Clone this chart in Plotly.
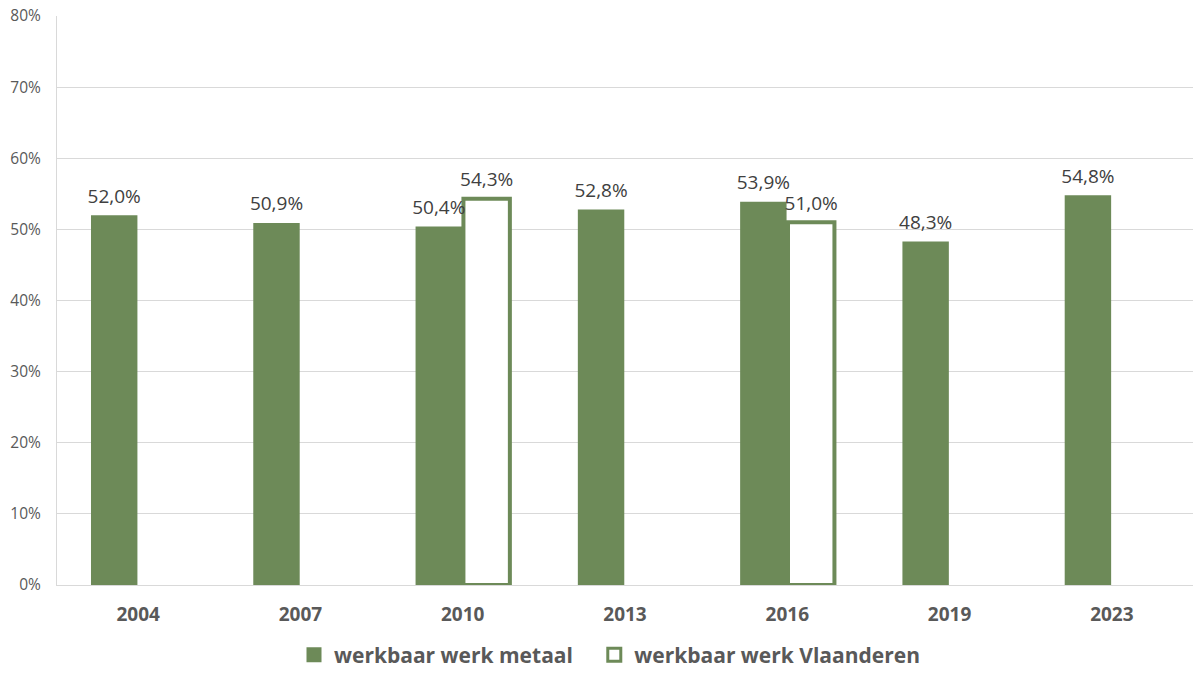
import plotly.graph_objects as go

years = ["2004", "2007", "2010", "2013", "2016", "2019", "2023"]
metaal = [52.0, 50.9, 50.4, 52.8, 53.9, 48.3, 54.8]
vlaanderen = [None, None, 54.3, None, 51.0, None, None]
y_ticks = [0, 10, 20, 30, 40, 50, 60, 70, 80]
y_ticktext = [f"{v}%" for v in y_ticks]

green = "#6D8A58"
label_font = dict(size=19, color="#404040", family="Open Sans")
NBSP = "\u00a0"

fig = go.Figure()
fig.add_trace(go.Bar(
    x=years, y=metaal, name="werkbaar werk metaal", offsetgroup="a",
    marker=dict(color=green, line=dict(width=0)), showlegend=False,
))
fig.add_trace(go.Bar(
    x=years, y=vlaanderen, name="werkbaar werk Vlaanderen", offsetgroup="b",
    marker=dict(color="white", line=dict(color=green, width=4)), showlegend=False,
))
# data labels, grouped like the bars
for vals, grp in ((metaal, "a"), (vlaanderen, "b")):
    fig.add_trace(go.Scatter(
        x=years, y=vals, offsetgroup=grp, mode="markers+text",
        marker=dict(size=11, opacity=0), texttemplate="%{y:.1f}%",
        textposition="top center", textfont=label_font,
        showlegend=False, hoverinfo="skip", cliponaxis=False,
    ))
# legend entries with larger square symbols
fig.add_trace(go.Scatter(
    x=[None], y=[None], mode="markers", name="werkbaar werk metaal" + NBSP * 3,
    marker=dict(symbol="square", size=15, color=green, line=dict(width=0)),
))
fig.add_trace(go.Scatter(
    x=[None], y=[None], mode="markers", name="werkbaar werk Vlaanderen",
    marker=dict(symbol="square", size=13, color="white", line=dict(color=green, width=3)),
))

fig.update_layout(
    width=1195, height=675,
    margin=dict(l=57, r=2, t=16, b=90),
    paper_bgcolor="white", plot_bgcolor="white",
    barmode="group", bargap=0.41, bargroupgap=0.03, scattermode="group",
    separators=",.",
    font=dict(family="Open Sans", color="#595959"),
    showlegend=True,
    legend=dict(orientation="h", xref="container", x=(294 / 1195), xanchor="left",
                yref="container", y=(675 - 655) / 675, yanchor="middle",
                font=dict(size=21, color="#595959", family="Open Sans", weight="bold"),
                itemwidth=30, tracegroupgap=0),
    xaxis=dict(type="category", tickfont=dict(size=19, color="#595959", weight="bold"),
               showline=True, linecolor="#D9D9D9", linewidth=1, ticks="",
               ticklabelstandoff=12),
    yaxis=dict(range=[0, 80], tickvals=y_ticks, ticktext=y_ticktext,
               tickfont=dict(size=15.5, color="#595959"),
               showgrid=True, gridcolor="#D9D9D9", gridwidth=1,
               showline=True, linecolor="#D9D9D9", linewidth=1,
               zeroline=False, ticks="", ticklabelstandoff=12),
)

fig.write_html("out.html")
